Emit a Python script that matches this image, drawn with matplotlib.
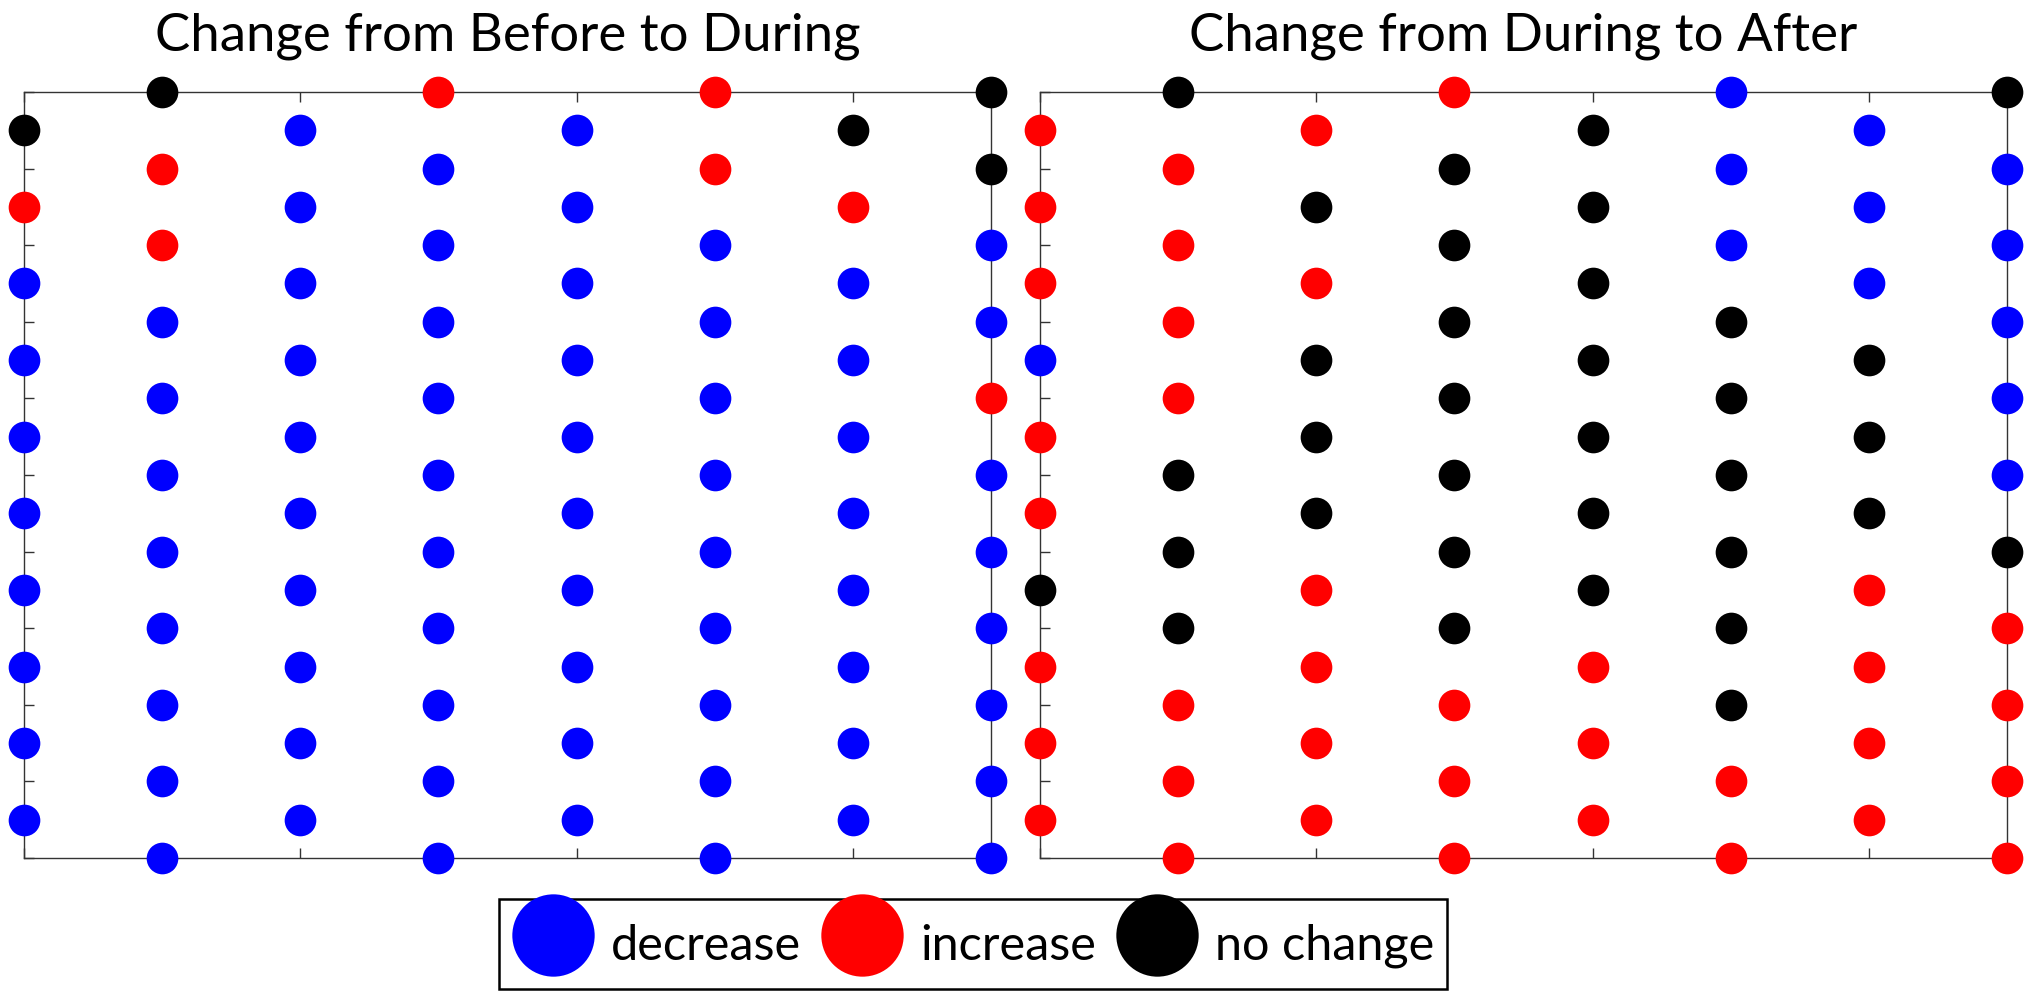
import numpy as np
import matplotlib
matplotlib.use("Agg")
import matplotlib.pyplot as plt

plt.rcParams['font.family'] = ['Lato', 'DejaVu Sans']

# category codes read per column, top to bottom
# odd columns sit on whole levels (11 points), even columns on half levels (10 points)
categories = ["decrease", "increase", "no change"]
codes = ["b", "r", "k"]
colors = ["#0000ff", "#ff0000", "#000000"]

titles = ["Change from Before to During", "Change from During to After"]

before_during = [
    "krbbbbbbbb",
    "krrbbbbbbbb",
    "bbbbbbbbbb",
    "rbbbbbbbbbb",
    "bbbbbbbbbb",
    "rrbbbbbbbbb",
    "krbbbbbbbb",
    "kkbbrbbbbbb",
]

during_after = [
    "rrrbrrkrrr",
    "krrrrkkkrrr",
    "rkrkkkrrrr",
    "rkkkkkkkrrr",
    "kkkkkkkrrr",
    "bbbkkkkkkrr",
    "bbbkkkrrrr",
    "kbbbbbkrrrr",
]


def grid_points(columns):
    '''turn the per-column code strings into x, y, code arrays'''
    xs, ys, cs = [], [], []
    for col, s in enumerate(columns):
        top = 10.0 if col % 2 == 1 else 9.5
        for i, c in enumerate(s):
            xs.append(col)
            ys.append(top - i)
            cs.append(c)
    return np.array(xs), np.array(ys), np.array(cs)


W, H = 2032, 1002
fig = plt.figure(figsize=(W / 100, H / 100), dpi=100)

ax_w = 967 / W
ax_h = 766 / H
ax_b = (H - 858) / H
axes = [fig.add_axes([24 / W, ax_b, ax_w, ax_h]),
        fig.add_axes([1040 / W, ax_b, ax_w, ax_h])]

spine_col = "#333333"
for ax, data, title in zip(axes, [before_during, during_after], titles):
    x, y, c = grid_points(data)
    for cat, code, col in zip(categories, codes, colors):
        m = c == code
        ax.scatter(x[m], y[m], s=520, color=col, linewidths=0,
                   clip_on=False, zorder=3, label=cat)
    ax.set_xlim(0, 7)
    ax.set_ylim(0, 10)
    ax.set_xticks(range(8))
    ax.set_yticks(range(11))
    ax.tick_params(direction="in", length=7, width=1.0, color=spine_col,
                   top=True, right=True, labelbottom=False, labelleft=False)
    for sp in ax.spines.values():
        sp.set_color(spine_col)
        sp.set_linewidth(1.0)
    ax.set_title(title, fontsize=38, pad=30)

handles, labels = axes[0].get_legend_handles_labels()
leg = fig.legend(handles, labels, loc="center",
                 bbox_to_anchor=(973 / W, 1 - 944 / H), ncol=3,
                 fontsize=35, markerscale=2.6, frameon=True, fancybox=False,
                 edgecolor="black", framealpha=1, borderpad=0.26,
                 handlelength=1.7, handleheight=1.7, handletextpad=0.35,
                 columnspacing=0.4, borderaxespad=0)
leg.get_frame().set_linewidth(1.8)

fig.savefig("out.png", dpi=100)
